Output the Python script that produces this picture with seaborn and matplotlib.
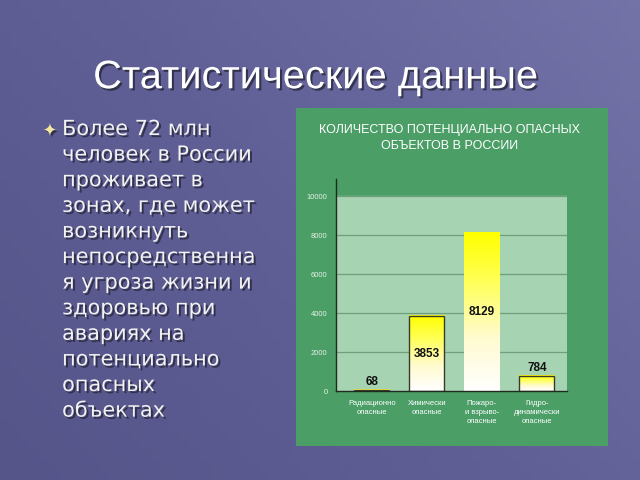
import numpy as np
import pandas as pd
import matplotlib
matplotlib.use("Agg")
import matplotlib.pyplot as plt
import matplotlib.patheffects as pe
from matplotlib.colors import LinearSegmentedColormap
from matplotlib.patches import Rectangle
import seaborn as sns

# --- data ---
categories = ["Радиационно\nопасные", "Химически\nопасные",
              "Пожаро-\nи взрыво-\nопасные", "Гидро-\nдинамически\nопасные"]
values = [68, 3853, 8129, 784]
y_ticks = [0, 2000, 4000, 6000, 8000, 10000]

slide_title = "Статистические данные"
chart_title = "КОЛИЧЕСТВО ПОТЕНЦИАЛЬНО ОПАСНЫХ\nОБЪЕКТОВ В РОССИИ"
bullet_text = ("Более 72 млн\nчеловек в России\nпроживает в\nзонах, где может\n"
               "возникнуть\nнепосредственна\nя угроза жизни и\nздоровью при\n"
               "авариях на\nпотенциально\nопасных\nобъектах")

sns.set_style("white")
plt.rcParams["font.family"] = ["DejaVu Sans"]
narrow = ["Liberation Sans Narrow", "Liberation Sans", "DejaVu Sans"]

fig = plt.figure(figsize=(6.4, 4.8), dpi=100)

# slide background gradient
bg = fig.add_axes([0, 0, 1, 1], zorder=-10)
gx, gy = np.meshgrid(np.linspace(0, 1, 64), np.linspace(1, 0, 48))
bg_cmap = LinearSegmentedColormap.from_list("bg", ["#56558a", "#605f96", "#7373a8"])
bg.imshow(gx * 0.6 + gy * 0.4, cmap=bg_cmap, aspect="auto", extent=[0, 1, 0, 1])
bg.set_axis_off()

shadow = [pe.withSimplePatchShadow(offset=(1.5, -1.5), shadow_rgbFace="#202030", alpha=0.7)]

fig.text(0.493, 0.839, slide_title, fontsize=28.7, color="white", ha="center", va="center",
         family=["Liberation Sans", "DejaVu Sans"], path_effects=shadow)

fig.text(0.078, 0.727, "✦", fontsize=13, color="#f2e6a0", ha="center", va="center",
         path_effects=shadow)
fig.text(0.097, 0.752, bullet_text, fontsize=15, color="#f2f2f2", ha="left", va="top",
         linespacing=1.35, path_effects=shadow)

# green panel
fig.patches.append(Rectangle((0.4625, 0.0708), 0.4875, 0.704, transform=fig.transFigure,
                             facecolor="#4a9e66", edgecolor="none", zorder=-5))
fig.text(0.703, 0.713, chart_title, fontsize=9, color="white", ha="center", va="center",
         family=narrow, linespacing=1.45)

# chart
df = pd.DataFrame({"category": categories, "value": values})
ax = fig.add_axes([0.525, 0.185, 0.361, 0.443])
ax.set_facecolor("#4a9e66")

sns.barplot(data=df, x="category", y="value", ax=ax, width=0.64, color="#ffff20",
            zorder=2)
bars = list(ax.containers[0])
ax.axhspan(0, y_ticks[-1], color="#a6d4b2", zorder=0)

grad_cmap = LinearSegmentedColormap.from_list("bar", ["#ffffff", "#fffbd0", "#ffff60", "#ffff00"])
grad = np.linspace(1, 0, 100).reshape(-1, 1)
for v, p in zip(values, bars):
    x0, w, h = p.get_x(), p.get_width(), p.get_height()
    ax.imshow(grad, cmap=grad_cmap, aspect="auto", extent=[x0, x0 + w, 0, h],
              zorder=2.5, clip_path=p, clip_on=True)
    if v > 8000:
        p.set_edgecolor("none")
    else:
        p.set_edgecolor("#3a3a2a")
        p.set_linewidth(1.0)
        p.set_facecolor("none")
        p.set_zorder(3)

for i, v in enumerate(values):
    if v < 1000:
        ax.annotate(str(v), (i, v), xytext=(0, 1.5), textcoords="offset points",
                    ha="center", va="bottom", fontsize=8.5, fontweight="bold",
                    family=narrow, color="#111111", zorder=4)
    else:
        ax.text(i, v / 2, str(v), ha="center", va="center", fontsize=8.5,
                fontweight="bold", family=narrow, color="#111111", zorder=4)

ax.set_xlim(-0.65, 3.55)
ax.set_ylim(0, 10900)
ax.set_yticks(y_ticks)
ax.set_yticklabels([str(t) for t in y_ticks], fontsize=5.5, color="#e6f2e6", family=narrow)
ax.set_xticks(range(len(categories)))
ax.set_xticklabels(categories, fontsize=5.5, color="white", family=narrow, linespacing=1.4)
ax.tick_params(axis="both", length=0, pad=6)
ax.set_xlabel("")
ax.set_ylabel("")
for t in y_ticks[1:]:
    ax.axhline(t, color="#6f9f7c", linewidth=0.9, zorder=1)
sns.despine(ax=ax, top=True, right=True)
for s in ("left", "bottom"):
    ax.spines[s].set_color("#1e2a1e")
    ax.spines[s].set_linewidth(1.0)
    ax.spines[s].set_zorder(5)

fig.savefig("out.png", dpi=100)
